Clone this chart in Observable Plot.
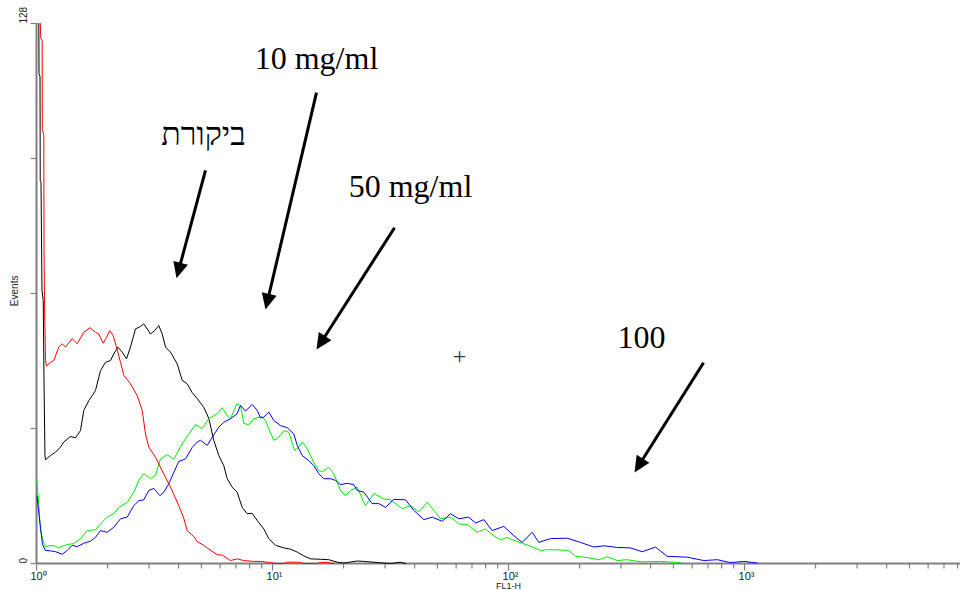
<!DOCTYPE html>
<html>
<head>
<meta charset="utf-8">
<script src="https://cdn.jsdelivr.net/npm/d3@7"></script>
<script src="https://cdn.jsdelivr.net/npm/@observablehq/plot@0.6"></script>
<style>
  html, body { margin: 0; padding: 0; background: #fff; }
  #chart svg { display: block; }
</style>
</head>
<body>
<div id="chart"></div>
<script>
// ---- axis values ----
const xDomain = [1, 8227];          // FL1-H (log), plot is cropped at the right
const yDomain = [0, 128];           // Events
const xMajorTicks = [1, 10, 100, 1000];
const xTickLabels = ["10\u2070", "10\u00B9", "10\u00B2", "10\u00B3"];
const xMinorTicks = [2,3,4,5,6,7,8,9, 20,30,40,50,60,70,80,90, 200,300,400,500,600,700,800,900, 2000,3000,4000,5000,6000,7000,8000];
const yTicks = [0, 32, 64, 96, 128];
const yTickLabelValues = [0, 128];
const yTickLabels = ["0", "128"];
const xLabel = ["FL1-H"];
const xLabelAt = [100];
const yLabel = ["Events"];
const yLabelAt = [61];

// ---- histogram series: [FL1-H, events] ----
const redCurve = [[1.038,128],[1.043,124.4],[1.057,124],[1.058,103],[1.074,101.5],[1.076,75],[1.081,62.3],[1.092,48.1],[1.102,46.8],[1.147,47.7],[1.184,48.1],[1.243,51.3],[1.285,52.1],[1.327,51.3],[1.416,53.3],[1.488,52.1],[1.586,54.8],[1.682,55.9],[1.778,54.8],[1.836,54.4],[1.917,52.2],[1.979,53.6],[2.045,55.2],[2.113,54.0],[2.183,51.3],[2.270,47.7],[2.344,44.6],[2.502,42.6],[2.672,39.8],[2.805,36.3],[2.896,30.7],[2.991,27.6],[3.193,25.2],[3.409,22.0],[3.697,18.1],[4.009,13.7],[4.209,10.7],[4.350,7.8],[4.640,6.4],[4.796,5.2],[5.115,4.3],[5.288,3.7],[5.830,2.1],[6.121,2.0],[6.637,0.7],[7.084,1.1],[7.556,0.7],[8.331,0.5],[8.894,0.5],[9.807,0.2],[10.47,0],[11.17,0],[11.54,0.3],[12.73,0.3],[13.57,0],[15.47,0],[15.97,0.25],[17.10,0.25],[18.19,0]];

const blackCurve = [[1.023,128],[1.025,116.1],[1.035,115.4],[1.037,90.8],[1.045,90.3],[1.055,64.7],[1.068,62.3],[1.076,43.4],[1.086,25.6],[1.092,24.6],[1.147,25.6],[1.204,26.4],[1.264,27.6],[1.305,28.8],[1.393,30.1],[1.463,29.8],[1.536,31.5],[1.586,36.3],[1.666,38.6],[1.778,41.0],[1.867,45.7],[1.960,47.7],[2.059,48.1],[2.126,49.7],[2.211,51.3],[2.308,50.1],[2.406,48.5],[2.502,51.3],[2.627,55.6],[2.759,56.2],[2.849,56.8],[2.945,55.6],[3.041,54.4],[3.162,55.2],[3.297,56.4],[3.409,54.4],[3.521,51.3],[3.697,50.1],[3.947,47.3],[4.144,43.4],[4.350,42.6],[4.568,40.5],[4.796,39.1],[5.115,37.0],[5.370,34.4],[5.639,29.2],[5.921,25.6],[6.216,23.2],[6.427,20.1],[6.748,18.1],[7.084,16.9],[7.440,13.3],[7.811,11.8],[8.202,11.9],[8.612,10.2],[9.185,8.2],[9.646,5.9],[10.30,4.3],[11.17,3.7],[11.92,3.4],[12.73,2.7],[13.57,1.8],[14.49,1.1],[15.97,1.0],[17.32,0.9],[18.80,0.3],[20.05,0.1],[21.41,0.35],[22.85,0.6],[24.37,0.5],[26.87,0.3],[29.62,0.1],[31.62,0],[34.85,0.3],[36.6,0]];

const greenCurve = [[1.003,20.0],[1.023,13.7],[1.040,7.8],[1.068,5.2],[1.092,3.9],[1.147,4.3],[1.204,4.1],[1.243,3.7],[1.285,4.1],[1.349,4.5],[1.439,4.7],[1.511,5.6],[1.536,5.9],[1.640,7.8],[1.778,8.0],[1.867,9.4],[1.993,11.0],[2.126,11.8],[2.232,13.3],[2.423,14.5],[2.584,16.9],[2.714,19.7],[2.849,21.3],[3.041,20.1],[3.193,20.9],[3.352,24.8],[3.579,25.8],[3.818,24.7],[4.075,27.7],[4.350,30.2],[4.718,32.9],[5.036,32.0],[5.370,34.3],[5.830,35.5],[6.121,36.9],[6.427,35.1],[6.637,34.3],[7.058,37.9],[7.318,37.5],[7.556,33.2],[7.935,32.9],[8.331,34.3],[8.982,34.8],[9.340,33.9],[9.646,31.9],[10.13,29.2],[10.47,29.6],[11.17,31.5],[11.72,31.1],[12.40,26.8],[12.93,27.6],[13.36,28.8],[14.03,27.2],[14.25,26.4],[14.96,24.0],[15.71,22.0],[16.24,21.8],[17.32,22.8],[18.19,21.3],[18.80,19.3],[19.42,17.3],[20.39,16.1],[21.41,17.3],[22.85,18.1],[24.37,14.5],[24.78,13.7],[26.87,16.6],[29.62,15.3],[31.62,15.1],[35.44,13.0],[38.44,13.7],[41.67,12.2],[45.23,14.5],[49.04,12.2],[51.50,10.6],[56.79,11.0],[61.56,9.4],[66.83,9.2],[73.68,7.4],[79.92,8.2],[86.63,6.6],[92.50,5.6],[98.74,6.2],[105.3,5.5],[114.3,4.8],[124.0,4.1],[136.7,3.1],[148.2,3.3],[166.1,3.2],[180.1,3.1],[192.2,1.7],[215.5,1.4],[241.4,0.9],[261.9,1.6],[288.9,0.7],[318.4,0.9],[362.5,0.4],[440.6,0.5],[501.7,0.3],[535.6,0.2]];

const blueCurve = [[1.005,16.0],[1.023,11.9],[1.047,7.1],[1.060,4.5],[1.092,3.1],[1.147,3.0],[1.204,2.8],[1.285,2.2],[1.349,3.1],[1.416,4.3],[1.488,4.0],[1.586,4.8],[1.694,5.3],[1.778,6.2],[1.867,7.8],[1.993,7.4],[2.126,8.6],[2.270,10.6],[2.423,11.0],[2.584,13.7],[2.714,14.9],[2.849,15.1],[2.991,17.3],[3.140,17.8],[3.330,16.1],[3.463,16.9],[3.636,18.9],[3.818,21.6],[4.009,24.2],[4.279,24.8],[4.568,27.5],[4.796,28.8],[4.953,29.2],[5.288,28.0],[5.639,30.5],[5.921,32.3],[6.216,33.5],[6.637,34.3],[7.084,35.5],[7.318,37.5],[7.683,36.1],[8.202,37.7],[8.612,36.3],[8.894,34.5],[9.185,34.7],[9.646,35.9],[10.13,33.9],[10.81,32.7],[11.54,32.2],[12.31,30.7],[12.73,28.0],[13.36,25.6],[14.25,24.4],[14.96,23.2],[15.71,21.3],[16.49,20.1],[17.61,20.1],[18.49,19.7],[19.42,18.7],[20.73,19.0],[22.11,18.7],[22.85,17.3],[24.37,16.9],[26.45,14.2],[28.21,14.2],[30.12,13.3],[32.66,15.2],[36.60,15.1],[39.70,12.6],[43.75,10.4],[47.49,11.0],[52.36,10.0],[56.79,11.8],[61.56,10.6],[67.88,11.0],[72.46,9.6],[78.61,10.4],[85.29,7.8],[95.52,8.8],[105.3,6.6],[114.3,5.0],[126.0,7.4],[134.4,5.0],[150.7,5.9],[177.4,6.0],[201.9,5.0],[229.9,3.9],[253.4,4.2],[288.9,3.8],[328.8,3.7],[368.6,2.8],[419.7,3.9],[470.4,1.7],[571.7,1.5],[672.3,0.7],[766.2,0.9],[872.4,0.2],[993.2,0.5],[1132,0.1]];

// ---- annotations (data coordinates) ----
const noteText = ["\u05D1\u05D9\u05E7\u05D5\u05E8\u05EA", "10 mg/ml", "50 mg/ml", "100"];
const noteX = [5.10, 15.36, 38.44, 366.1];
const noteY = [99.1, 117.1, 86.8, 51.2];
const arrowX1 = [5.201, 15.36, 32.89, 670.4];
const arrowY1 = [93.2, 111.6, 79.6, 47.6];
const arrowX2 = [3.920, 9.340, 15.36, 341.9];
const arrowY2 = [67.6, 60.2, 50.7, 21.6];
const crossX = [61.98];
const crossY = [49.1];

// ---- build ----
const W = 960, H = 590, mL = 36, mR = 0, mT = 23, mB = 27;
const sx = d3.scaleLog().domain(xDomain).range([mL, W - mR]);
const sy = d3.scaleLinear().domain(yDomain).range([H - mB, mT]);

const notes = noteText.map((t, i) => ({t, x: noteX[i], y: noteY[i]}));
const arrows = arrowX1.map((_, i) => {
  const dx = sx(arrowX2[i]) - sx(arrowX1[i]);
  const dy = sy(arrowY2[i]) - sy(arrowY1[i]);
  return {x1: arrowX1[i], y1: arrowY1[i], x2: arrowX2[i], y2: arrowY2[i],
          angle: Math.atan2(dx, -dy) * 180 / Math.PI};
});
const toRows = (arr) => arr.map(([x, y]) => ({x, y}));

const headSymbol = {draw(ctx, size) { const r = Math.sqrt(size / Math.PI);
  ctx.moveTo(0, 0); ctx.lineTo(-0.47 * r, r); ctx.lineTo(0.47 * r, r); ctx.closePath(); }};
const vTick = {draw(ctx, size) { const r = Math.sqrt(size / Math.PI); ctx.moveTo(0, 0); ctx.lineTo(0, r); }};
const hTick = {draw(ctx, size) { const r = Math.sqrt(size / Math.PI); ctx.moveTo(0, 0); ctx.lineTo(-r, 0); }};

const axisGray = "#808080";
const sans = "Liberation Sans, Arial, sans-serif";
const serif = "Liberation Serif, Times New Roman, serif";

const chart = Plot.plot({
  width: W, height: H,
  marginLeft: mL, marginRight: mR, marginTop: mT, marginBottom: mB,
  x: {type: "log", domain: xDomain, axis: null},
  y: {domain: yDomain, axis: null},
  style: {background: "#fff", fontFamily: sans, overflow: "visible"},
  marks: [
    // axes
    Plot.ruleY([0], {stroke: axisGray, strokeWidth: 2}),
    Plot.ruleX([1], {y1: 0, y2: 128, stroke: axisGray, strokeWidth: 2}),
    Plot.dot(xMinorTicks, {x: d => d, y: 0, symbol: vTick, r: 5, stroke: axisGray, fill: "none", strokeWidth: 1.2}),
    Plot.dot(xMajorTicks, {x: d => d, y: 0, symbol: vTick, r: 7, stroke: axisGray, fill: "none", strokeWidth: 1.2}),
    Plot.dot(yTicks, {x: 1, y: d => d, symbol: hTick, r: 6, stroke: axisGray, fill: "none", strokeWidth: 1.2}),
    Plot.text(xMajorTicks, {x: d => d, y: 0, text: (d, i) => xTickLabels[i], dy: 13, dx: 2, lineAnchor: "middle", fontSize: 11, fill: "#222"}),
    Plot.text(yTickLabelValues, {y: d => d, frameAnchor: "left", text: (d, i) => yTickLabels[i], dx: -13, rotate: -90, fontSize: 10, fill: "#222"}),
    Plot.text(xLabelAt, {x: d => d, y: 0, text: (d, i) => xLabel[i], dy: 25, lineAnchor: "bottom", fontSize: 9, fill: "#222"}),
    Plot.text(yLabelAt, {y: d => d, frameAnchor: "left", text: (d, i) => yLabel[i], dx: -22, rotate: -90, fontSize: 10, fill: "#222"}),
    // histograms
    Plot.line(toRows(blackCurve), {x: "x", y: "y", stroke: "#000000", strokeWidth: 1}),
    Plot.line(toRows(greenCurve), {x: "x", y: "y", stroke: "#00ee00", strokeWidth: 1}),
    Plot.line(toRows(blueCurve), {x: "x", y: "y", stroke: "#0000ff", strokeWidth: 1}),
    Plot.line(toRows(redCurve), {x: "x", y: "y", stroke: "#ff0000", strokeWidth: 1}),
    // annotations
    Plot.text(notes, {x: "x", y: "y", text: "t", lineAnchor: "bottom", textAnchor: "middle", fontFamily: serif, fontSize: 32, fill: "#000"}),
    Plot.arrow(arrows, {x1: "x1", y1: "y1", x2: "x2", y2: "y2", bend: 0, headLength: 0, insetEnd: 9, stroke: "#000", strokeWidth: 3, strokeLinecap: "butt"}),
    Plot.dot(arrows, {x: "x2", y: "y2", symbol: headSymbol, r: 16, rotate: "angle", fill: "#000", stroke: "none"}),
    Plot.text(crossX, {x: d => d, y: (d, i) => crossY[i], text: () => "+", lineAnchor: "middle", fontFamily: serif, fontSize: 24, fill: "#333"})
  ]
});
document.getElementById("chart").appendChild(chart);
</script>
</body>
</html>
